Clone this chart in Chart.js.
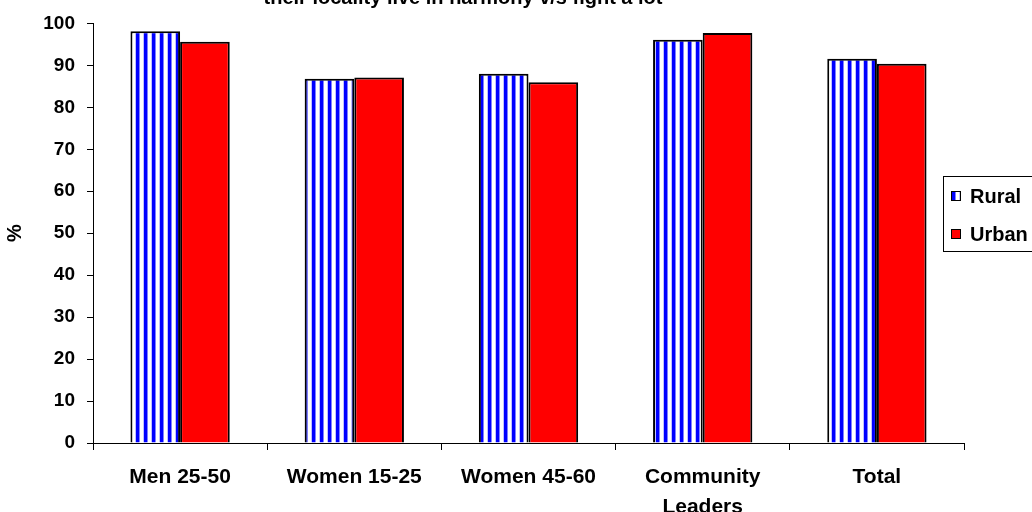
<!DOCTYPE html>
<html>
<head>
<meta charset="utf-8">
<script src="https://cdn.jsdelivr.net/npm/chart.js@4.4.1/dist/chart.umd.min.js"></script>
<style>
  html, body { margin: 0; padding: 0; background: #fff; }
  canvas { display: block; }
</style>
</head>
<body>
<canvas id="chart" width="1032" height="512"></canvas>
<script>
const categories = ['Men 25-50', 'Women 15-25', 'Women 45-60', ['Community', 'Leaders'], 'Total'];
const seriesNames = ['Rural', 'Urban'];
const ruralValues = [98.1, 86.8, 88.0, 96.1, 91.6];
const urbanValues = [95.6, 87.1, 86.0, 97.7, 90.4];
const yTickValues = [0, 10, 20, 30, 40, 50, 60, 70, 80, 90, 100];
const titleText = 'their locality live in harmony v/s fight a lot';

const FONT = '"Liberation Sans", Arial, sans-serif';

// vertical blue / white stripes for the Rural bars
function makeStripes(ctx) {
    const c = document.createElement('canvas');
    c.width = 8;
    c.height = 1;
    const g = c.getContext('2d');
    const cols = ['#0000ff', '#0000ff', '#0000ff', '#8080ff', '#ffffff', '#ffffff', '#ffffff', '#c0c0ff'];
    cols.forEach((col, i) => {
        g.fillStyle = col;
        g.fillRect(i, 0, 1, 1);
    });
    return ctx.createPattern(c, 'repeat');
}

const ctx = document.getElementById('chart').getContext('2d');
const stripes = makeStripes(ctx);

const titlePlugin = {
    id: 'topTitle',
    afterDraw(chart) {
        const c = chart.ctx;
        c.save();
        c.fillStyle = '#000';
        c.font = 'bold 20px ' + FONT;
        c.textAlign = 'center';
        c.textBaseline = 'alphabetic';
        c.fillText(titleText, 463, 4);
        c.restore();
    }
};

const legendPlugin = {
    id: 'boxLegend',
    afterDraw(chart) {
        const c = chart.ctx;
        const fills = [stripes, '#ff0000'];
        c.save();
        c.strokeStyle = '#000';
        c.lineWidth = 1;
        c.fillStyle = '#fff';
        c.fillRect(943.5, 176.5, 120, 75);
        c.strokeRect(943.5, 176.5, 120, 75);
        c.font = 'bold 20px ' + FONT;
        c.textBaseline = 'middle';
        c.textAlign = 'left';
        seriesNames.forEach((name, i) => {
            const cy = 196 + i * 38;
            c.fillStyle = fills[i];
            c.fillRect(951.5, cy - 4.5, 9, 9);
            c.strokeRect(951.5, cy - 4.5, 9, 9);
            c.fillStyle = '#000';
            c.fillText(name, 970, cy + 1);
        });
        c.restore();
    }
};

new Chart(ctx, {
    type: 'bar',
    data: {
        labels: categories,
        datasets: [{
            label: seriesNames[0],
            data: ruralValues,
            backgroundColor: stripes,
            borderColor: '#000',
            borderWidth: 2,
            borderSkipped: 'start',
            barPercentage: 1.0,
            categoryPercentage: 0.57
        }, {
            label: seriesNames[1],
            data: urbanValues,
            backgroundColor: '#ff0000',
            borderColor: '#000',
            borderWidth: 2,
            borderSkipped: 'start',
            barPercentage: 1.0,
            categoryPercentage: 0.57
        }]
    },
    options: {
        responsive: false,
        devicePixelRatio: 1,
        animation: false,
        layout: { padding: { top: 23, right: 68, bottom: 0, left: 0 } },
        plugins: {
            legend: { display: false },
            title: { display: false },
            tooltip: { enabled: false }
        },
        scales: {
            x: {
                grid: {
                    offset: true,
                    drawOnChartArea: false,
                    drawTicks: true,
                    tickLength: 7,
                    color: '#000'
                },
                border: { display: true, color: '#000', width: 1 },
                ticks: {
                    color: '#000',
                    padding: 12,
                    maxRotation: 0,
                    autoSkip: false,
                    font: { family: FONT, size: 21, weight: 'bold', lineHeight: 1.43 }
                },
                afterFit(scale) { scale.height = 69; }
            },
            y: {
                min: 0,
                max: 100,
                afterBuildTicks(scale) {
                    scale.ticks = yTickValues.map(v => ({ value: v }));
                },
                grid: {
                    drawOnChartArea: false,
                    drawTicks: true,
                    tickLength: 6,
                    color: '#000'
                },
                border: { display: true, color: '#000', width: 1 },
                ticks: {
                    color: '#000',
                    padding: 12,
                    font: { family: FONT, size: 19, weight: 'bold' }
                },
                title: {
                    display: true,
                    text: '%',
                    color: '#000',
                    padding: { top: 3, bottom: 0 },
                    font: { family: FONT, size: 20, weight: 'bold' }
                },
                afterFit(scale) { scale.width = 93; }
            }
        }
    },
    plugins: [titlePlugin, legendPlugin]
});
</script>
</body>
</html>
